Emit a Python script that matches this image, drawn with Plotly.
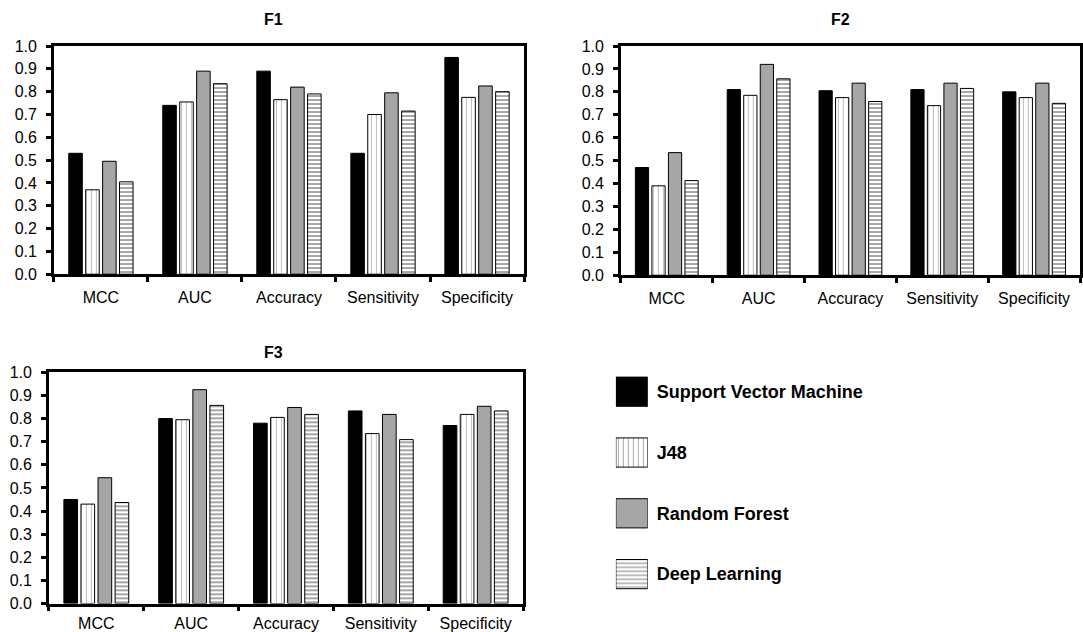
import plotly.graph_objects as go

# ---------------- data ----------------
METRICS = ["MCC", "AUC", "Accuracy", "Sensitivity", "Specificity"]
MODELS = ["Support Vector Machine", "J48", "Random Forest", "Deep Learning"]
PANELS = ["F1", "F2", "F3"]

F1_SVM = [0.53, 0.74, 0.89, 0.53, 0.95]
F1_J48 = [0.37, 0.755, 0.765, 0.70, 0.775]
F1_RF = [0.495, 0.89, 0.82, 0.795, 0.825]
F1_DL = [0.405, 0.835, 0.79, 0.715, 0.80]

F2_SVM = [0.47, 0.81, 0.805, 0.81, 0.80]
F2_J48 = [0.39, 0.785, 0.775, 0.74, 0.775]
F2_RF = [0.535, 0.92, 0.838, 0.838, 0.838]
F2_DL = [0.413, 0.857, 0.758, 0.815, 0.75]

F3_SVM = [0.45, 0.80, 0.78, 0.833, 0.77]
F3_J48 = [0.43, 0.795, 0.805, 0.735, 0.818]
F3_RF = [0.544, 0.925, 0.848, 0.818, 0.853]
F3_DL = [0.437, 0.857, 0.818, 0.709, 0.833]

PANEL_DATA = [
    [F1_SVM, F1_J48, F1_RF, F1_DL],
    [F2_SVM, F2_J48, F2_RF, F2_DL],
    [F3_SVM, F3_J48, F3_RF, F3_DL],
]

# ---------------- styles ----------------
W, H = 1083, 650
FONT = "Liberation Sans, Arial, sans-serif"
GRAY = "#a6a6a6"

FILL = ["black", "white", GRAY, "white"]
PAT_SHAPE = ["", "|", "", "-"]
PAT_FG = ["black", "#6a6a6a", "black", "black"]
PAT_SIZE = [6, 5, 6, 4]
PAT_SOLID = [0.3, 0.18, 0.3, 0.35]

# observed vertical calibration of the screenshot
Y_OFF, Y_SCALE = 7.0, 0.973


def px_x(v):
    return v / W


def px_y(v):
    d = (v - Y_OFF) / Y_SCALE
    return 1 - d / H


# plot areas in target pixels: (left, right, top, bottom)
AREAS = [(54, 525, 45, 273), (622, 1082, 45, 274), (49, 524, 371, 602)]
TITLE_POS = [(274, 18), (842, 18), (274, 351)]
XLABEL_STANDOFF = [7, 7, 4]

fig = go.Figure()

for p, (name, series) in enumerate(zip(PANELS, PANEL_DATA)):
    ax = "" if p == 0 else str(p + 1)
    for m, vals in enumerate(series):
        fig.add_trace(go.Bar(
            x=METRICS, y=vals, name=MODELS[m],
            xaxis="x" + ax, yaxis="y" + ax,
            showlegend=False,
            marker=dict(
                color=FILL[m],
                line=dict(color="black", width=1),
                pattern=dict(shape=PAT_SHAPE[m], fgcolor=PAT_FG[m],
                             bgcolor=FILL[m], size=PAT_SIZE[m],
                             solidity=PAT_SOLID[m]),
            ),
        ))

# legend drawn as a small bar subplot
fig.add_trace(go.Bar(
    y=MODELS, x=[1, 1, 1, 1], orientation="h", width=0.48,
    xaxis="x4", yaxis="y4", showlegend=False, hoverinfo="y",
    marker=dict(
        color=FILL,
        line=dict(color="black", width=1),
        pattern=dict(shape=PAT_SHAPE, fgcolor=PAT_FG, bgcolor=FILL,
                     size=PAT_SIZE, solidity=PAT_SOLID),
    ),
))

layout = dict(
    width=W, height=H, autosize=False,
    margin=dict(l=0, r=0, t=0, b=0),
    paper_bgcolor="white", plot_bgcolor="white",
    font=dict(family=FONT, color="black", size=16),
    barmode="group", bargap=0.28, bargroupgap=0.2,
    annotations=[],
)

for p, (l, r, t, b) in enumerate(AREAS):
    ax = "" if p == 0 else str(p + 1)
    layout["xaxis" + ax] = dict(
        domain=[px_x(l), px_x(r)], anchor="y" + ax,
        type="category", categoryorder="array", categoryarray=METRICS,
        showline=True, linecolor="black", linewidth=2.5, mirror=True,
        ticks="outside", tickson="boundaries", ticklen=5, tickwidth=2.5,
        tickcolor="black", ticklabelstandoff=XLABEL_STANDOFF[p],
        tickfont=dict(size=16, family=FONT, color="black"),
        showgrid=False, zeroline=False, fixedrange=True,
    )
    layout["yaxis" + ax] = dict(
        domain=[px_y(b), px_y(t)], anchor="x" + ax,
        range=[0, 1], dtick=0.1, tick0=0, tickformat=".1f",
        showline=True, linecolor="black", linewidth=2.5, mirror=True,
        ticks="outside", ticklen=5, tickwidth=2.5, tickcolor="black",
        ticklabelstandoff=6,
        tickfont=dict(size=16, family=FONT, color="black"),
        showgrid=False, zeroline=False, fixedrange=True,
    )
    tx, ty = TITLE_POS[p]
    layout["annotations"].append(dict(
        text=PANELS[p], x=px_x(tx), y=px_y(ty), xref="paper", yref="paper",
        showarrow=False, xanchor="center", yanchor="middle",
        font=dict(size=16, family=FONT, color="black", weight="bold"),
    ))

layout["xaxis4"] = dict(
    domain=[px_x(617), px_x(649)], anchor="y4", range=[0, 1],
    visible=False, fixedrange=True,
)
layout["yaxis4"] = dict(
    domain=[px_y(603), px_y(360)], anchor="x4", side="right",
    type="category", categoryorder="array", categoryarray=MODELS,
    autorange="reversed", showline=False, showgrid=False, zeroline=False,
    ticks="", ticklabelstandoff=8, fixedrange=True,
    tickfont=dict(size=18, family=FONT, color="black", weight="bold"),
)

fig.update_layout(layout)
fig.write_html(
    "out.html",
    config={"displayModeBar": False, "responsive": False},
    post_script="document.body.style.margin='0';document.body.style.padding='0';",
)
